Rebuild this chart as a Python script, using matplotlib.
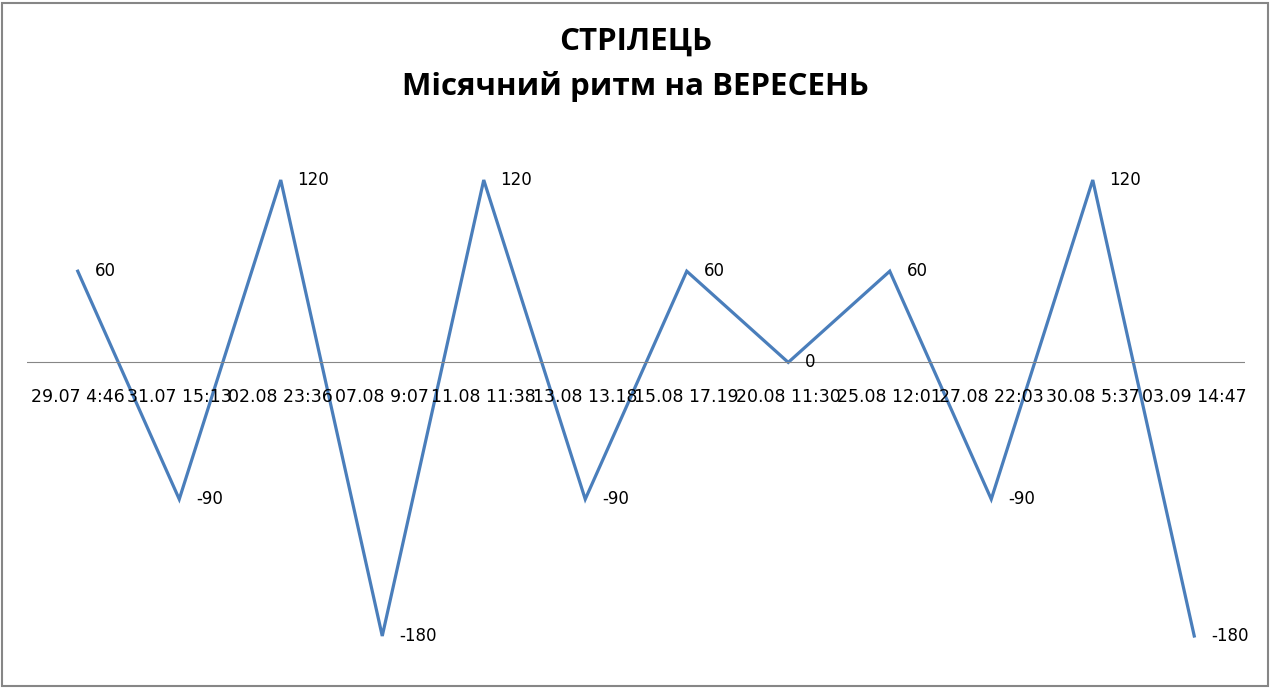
import matplotlib.pyplot as plt
from matplotlib.patches import Rectangle

dates = ["29.07 4:46", "31.07 15:13", "02.08 23:36", "07.08 9:07", "11.08 11:38",
         "13.08 13.18", "15.08 17.19", "20.08 11:30", "25.08 12:01", "27.08 22:03",
         "30.08 5:37", "03.09 14:47"]
values = [60, -90, 120, -180, 120, -90, 60, 0, 60, -90, 120, -180]

fig = plt.figure(figsize=(12.71, 6.88), dpi=100)
ax = fig.add_axes([27 / 1271, 52 / 688, 1218 / 1271, 456 / 688])

x = list(range(len(values)))
ax.plot(x, values, color="#4A7EBB", lw=2.3, clip_on=False, solid_joinstyle="miter")
for xi, v in zip(x, values):
    ax.annotate(str(v), (xi, v), xytext=(12, 0), textcoords="offset points",
                va="center", ha="left", fontsize=12)

ax.set_xlim(-0.5, len(values) - 0.5)
ax.set_ylim(-180, 120)
ax.axhline(0, color="#868686", lw=0.8)
for s in ax.spines.values():
    s.set_visible(False)
ax.set_yticks([])
ax.set_xticks([])
# category labels sit just under the zero line
for xi, d in zip(x, dates):
    ax.text(xi, -23, d, ha="center", va="center", fontsize=12.5)

fig.text(0.5, 1 - 42 / 688, "СТРІЛЕЦЬ", ha="center", va="center",
         fontsize=22.5, fontweight="bold", family="Open Sans")
fig.text(0.5, 1 - 87 / 688, "Місячний ритм на ВЕРЕСЕНЬ", ha="center", va="center",
         fontsize=22.5, fontweight="bold", family="Open Sans")

fig.patches.append(Rectangle((2 / 1271, 2 / 688), 1266 / 1271, 683 / 688,
                             transform=fig.transFigure, fill=False,
                             edgecolor="#868686", lw=1.5))

fig.savefig("out.png", dpi=100)
